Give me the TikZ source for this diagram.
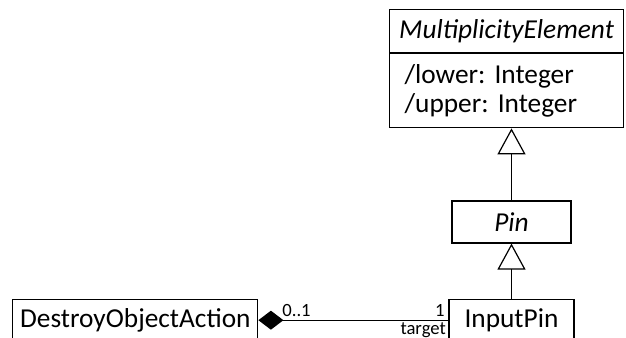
\documentclass[tikz,border=0pt]{standalone}
\usepackage{fontspec}
\setmainfont{Carlito}
\frenchspacing
\usetikzlibrary{positioning, arrows.meta}

\begin{document}
\begin{tikzpicture}[
    x=0.75pt, y=-0.75pt, % pixel units, y pointing down
    line width=0.9pt,
    classbox/.style={draw, font=\fontsize{20.5}{21.75}\selectfont, inner sep=0pt, minimum height=31.5pt}, % UML class box
    rolestyle/.style={font=\fontsize{14}{16}\selectfont, inner sep=2.5pt}, % multiplicity and role names
    inherit/.style={-{Triangle[open, length=19.5pt, width=21pt]}},
    compose/.style={{Diamond[length=18.75pt, width=14.25pt]}-}
]
\clip (0,0) rectangle (626,338);

% MultiplicityElement with its attributes
\node (mult_name) [classbox, anchor=north west, minimum width=175.5pt, minimum height=32.25pt] at (389,9) {\textit{MultiplicityElement}};
\node (mult_attrs) [classbox, below=0pt of mult_name, minimum width=175.5pt, minimum height=55.5pt, text width=153pt, align=left] {/lower: Integer\\/upper: Integer};

% Pin
\node (pin) [classbox, minimum width=89.25pt] at (511.5,222) {\textit{Pin}};

% InputPin and DestroyObjectAction
\node (input_pin) [classbox, below=41.25pt of pin, minimum width=93.75pt] {InputPin};
\node (destroy) [classbox, left=142.5pt of input_pin, minimum width=183.75pt] {DestroyObjectAction};

% Generalizations
\draw[inherit] (pin.north) -- (pin.north |- mult_attrs.south);
\draw[inherit] (input_pin.north) -- (pin.south);

% Composition with its ends
\draw[compose] (destroy.east) -- (input_pin.west)
    node[rolestyle, pos=0, anchor=south west, xshift=15pt] {0..1}
    node[rolestyle, pos=1, anchor=south east] {1}
    node[rolestyle, pos=1, anchor=north east, inner sep=1.5pt] {target};

\end{tikzpicture}
\end{document}
